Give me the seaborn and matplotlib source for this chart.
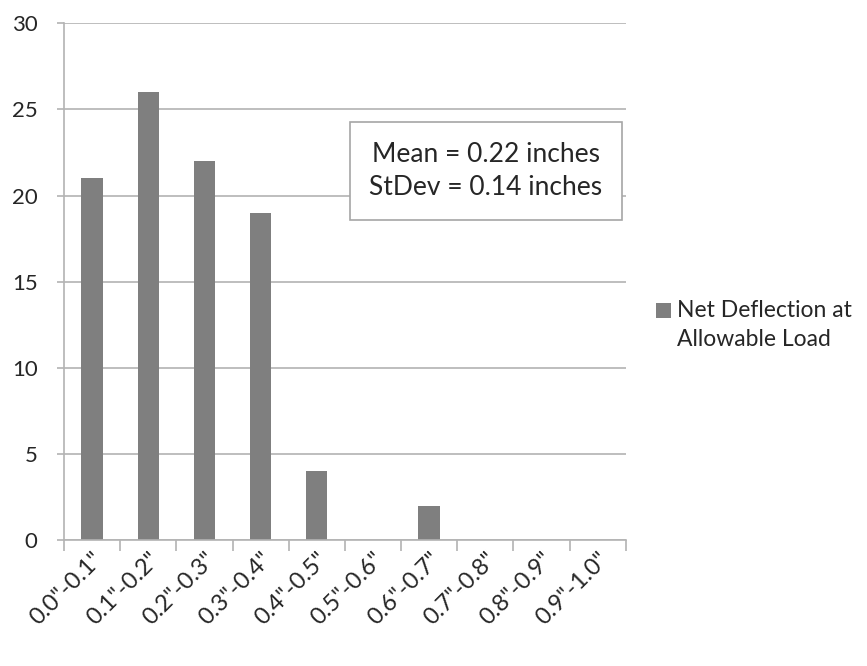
import matplotlib
matplotlib.use('Agg')
import matplotlib.pyplot as plt
import seaborn as sns
import numpy as np
import pandas as pd
from matplotlib.ticker import FixedLocator

# ── DATA ─────────────────────────────────────────────────────────────────────
BINS = ['0.0"-0.1"', '0.1"-0.2"', '0.2"-0.3"', '0.3"-0.4"', '0.4"-0.5"',
        '0.5"-0.6"', '0.6"-0.7"', '0.7"-0.8"', '0.8"-0.9"', '0.9"-1.0"']
COUNTS = [21, 26, 22, 19, 4, 0, 2, 0, 0, 0]
SERIES = "Net Deflection at\nAllowable Load"
STATS_TEXT = "Mean = 0.22 inches\nStDev = 0.14 inches"
Y_TICKS = [0, 5, 10, 15, 20, 25, 30]
# ─────────────────────────────────────────────────────────────────────────────

BAR_COLOR = "#7f7f7f"
GRID_COLOR = "#b3b3b3"
TEXT_COLOR = "#262626"

sns.set_theme(style="white")
plt.rcParams['font.family'] = ['Lato', 'DejaVu Sans']

df = pd.DataFrame({"bin": BINS, "count": COUNTS})

fig = plt.figure(figsize=(8.67, 6.66), dpi=100)
ax = fig.add_axes([0.0738, 0.189, 0.648, 0.776])

sns.barplot(data=df, x="bin", y="count", color=BAR_COLOR, width=0.38,
            saturation=1, linewidth=0, ax=ax, label=SERIES)

ax.set_ylim(0, 30)
ax.set_xlim(-0.5, len(BINS) - 0.5)
ax.set_yticks(Y_TICKS)
ax.yaxis.grid(True, color=GRID_COLOR, linewidth=1.2)
ax.set_axisbelow(True)
ax.set_xlabel("")
ax.set_ylabel("")

for side in ["top", "right"]:
    ax.spines[side].set_visible(False)
for side in ["left", "bottom"]:
    ax.spines[side].set_color(GRID_COLOR)
    ax.spines[side].set_linewidth(1.2)

# tick marks at category boundaries, labels centred
ax.xaxis.set_minor_locator(FixedLocator(np.arange(-0.5, len(BINS), 1.0)))
ax.tick_params(axis="x", which="major", length=0, pad=6)
ax.tick_params(axis="x", which="minor", bottom=True, length=8,
               color=GRID_COLOR, width=1.2)
ax.tick_params(axis="y", left=True, length=5, color=GRID_COLOR, width=1.2,
               pad=14)
ax.set_xticks(range(len(BINS)))
ax.set_xticklabels(BINS, rotation=45, ha="right", rotation_mode="anchor",
                   fontsize=17, color=TEXT_COLOR)
for lbl in ax.get_yticklabels():
    lbl.set_fontsize(16)
    lbl.set_color(TEXT_COLOR)

ax.text(0.751, 0.714, STATS_TEXT, transform=ax.transAxes, ha="center",
        va="center", fontsize=19, color=TEXT_COLOR, linespacing=1.4,
        bbox=dict(boxstyle="square,pad=0.75", facecolor="white",
                  edgecolor="#a6a6a6", linewidth=1.2))

if ax.legend_ is not None:
    ax.legend_.remove()
handles, labels = ax.get_legend_handles_labels()
leg = fig.legend(handles[:1], labels[:1], loc="center left",
                 bbox_to_anchor=(0.757, 0.512), frameon=False, fontsize=16.5,
                 handlelength=0.65, handleheight=0.65, handletextpad=0.25,
                 borderpad=0, borderaxespad=0, labelcolor=TEXT_COLOR)
for t in leg.get_texts():
    t.set_linespacing(1.5)
# marker sits beside the first line of the label, as in the original
for h in leg.legend_handles:
    h.set_y(h.get_y() + 11)

fig.savefig("out.png", dpi=100)
